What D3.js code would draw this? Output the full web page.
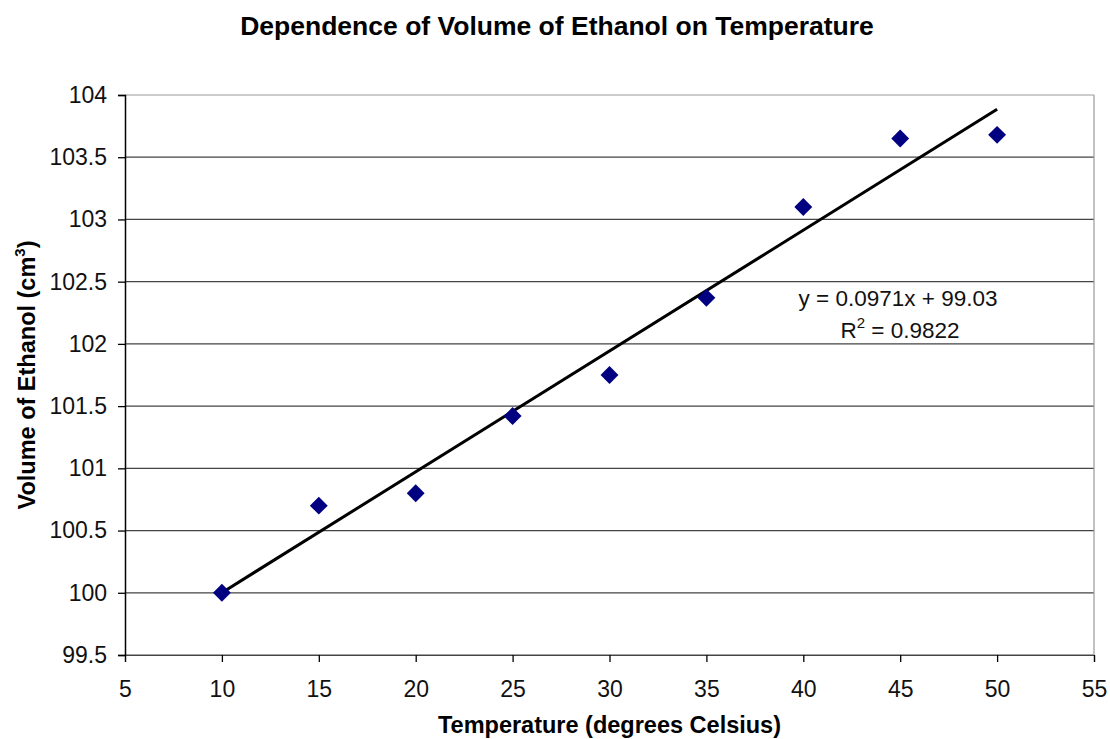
<!DOCTYPE html>
<html>
<head>
<meta charset="utf-8">
<script src="https://cdn.jsdelivr.net/npm/d3@7"></script>
<style>
  body { margin: 0; background: #fff; }
  text { font-family: "Liberation Sans", Arial, sans-serif; }
</style>
</head>
<body>
<svg id="chart" width="1110" height="739"></svg>
<script>
const temperatures = [10, 15, 20, 25, 30, 35, 40, 45, 50]
const volumes = [100.0, 100.7, 100.8, 101.42, 101.75, 102.37, 103.1, 103.65, 103.68]
const xTicks = [5, 10, 15, 20, 25, 30, 35, 40, 45, 50, 55]
const yTicks = [99.5, 100, 100.5, 101, 101.5, 102, 102.5, 103, 103.5, 104]
const trendSlope = 0.0971
const trendIntercept = 99.03
const rSquared = 0.9822

const svg = d3.select('#chart')
const plotLeft = 125
const plotRight = 1094
const plotTop = 95
const plotBottom = 655

const x = d3.scaleLinear().domain([5, 55]).range([plotLeft, plotRight])
const y = d3.scaleLinear().domain([99.5, 104]).range([plotBottom, plotTop])

// grid lines
svg.append('g')
    .selectAll('line')
    .data(yTicks)
    .join('line')
    .attr('x1', plotLeft)
    .attr('x2', plotRight)
    .attr('y1', d => y(d))
    .attr('y2', d => y(d))
    .attr('stroke', d => d === 104 ? '#999' : '#444')
    .attr('stroke-width', 1.2)

// right border
svg.append('line')
    .attr('x1', plotRight).attr('x2', plotRight)
    .attr('y1', plotTop).attr('y2', plotBottom)
    .attr('stroke', '#999')
    .attr('stroke-width', 1.2)

// axes
const yAxis = svg.append('g')
    .attr('transform', `translate(${plotLeft},0)`)
    .call(d3.axisLeft(y).tickValues(yTicks).tickSize(7).tickPadding(11).tickFormat(d3.format('')))
const xAxis = svg.append('g')
    .attr('transform', `translate(0,${plotBottom})`)
    .call(d3.axisBottom(x).tickValues(xTicks).tickSize(7).tickPadding(19).tickFormat(d3.format('')))

for (const ax of [yAxis, xAxis]) {
    ax.attr('font-size', 23).attr('font-family', '"Liberation Sans", Arial, sans-serif')
    ax.select('.domain').attr('stroke', '#000').attr('stroke-width', 1.5)
    ax.selectAll('.tick line').attr('stroke', '#000').attr('stroke-width', 1.3)
    ax.selectAll('.tick text').attr('fill', '#111')
}
xAxis.select('.domain').attr('stroke', '#444').attr('stroke-width', 1.2)

// trend line
svg.append('line')
    .attr('x1', x(temperatures[0]))
    .attr('y1', y(trendSlope * temperatures[0] + trendIntercept))
    .attr('x2', x(temperatures[temperatures.length - 1]))
    .attr('y2', y(trendSlope * temperatures[temperatures.length - 1] + trendIntercept))
    .attr('stroke', '#000')
    .attr('stroke-width', 3)

// markers
const diamond = d3.symbol().type(d3.symbolSquare).size(160)
svg.append('g')
    .selectAll('path')
    .data(temperatures)
    .join('path')
    .attr('d', diamond)
    .attr('transform', (d, i) => `translate(${x(d)},${y(volumes[i])}) rotate(45)`)
    .attr('fill', '#000080')

// equation
svg.append('text')
    .attr('x', 898)
    .attr('y', 306)
    .attr('text-anchor', 'middle')
    .attr('font-size', 22.5)
    .attr('fill', '#111')
    .text(`y = ${trendSlope}x + ${trendIntercept}`)

const r2 = svg.append('text')
    .attr('x', 900)
    .attr('y', 338)
    .attr('text-anchor', 'middle')
    .attr('font-size', 22.5)
    .attr('fill', '#111')
r2.append('tspan').text('R')
r2.append('tspan').attr('dy', -10).attr('font-size', 15).text('2')
r2.append('tspan').attr('dy', 10).text(` = ${rSquared}`)

// title
svg.append('text')
    .attr('x', 557)
    .attr('y', 35)
    .attr('text-anchor', 'middle')
    .attr('font-size', 26.5)
    .attr('font-weight', 'bold')
    .attr('fill', '#000')
    .text('Dependence of Volume of Ethanol on Temperature')

// x axis title
svg.append('text')
    .attr('x', (plotLeft + plotRight) / 2)
    .attr('y', 733)
    .attr('text-anchor', 'middle')
    .attr('font-size', 23.5)
    .attr('font-weight', 'bold')
    .text('Temperature (degrees Celsius)')

// y axis title
const yTitle = svg.append('text')
    .attr('transform', `translate(35,${(plotTop + plotBottom) / 2}) rotate(-90)`)
    .attr('text-anchor', 'middle')
    .attr('font-size', 23.5)
    .attr('font-weight', 'bold')
yTitle.append('tspan').text('Volume of Ethanol (cm')
yTitle.append('tspan').attr('dy', -10).attr('font-size', 15).text('3')
yTitle.append('tspan').attr('dy', 10).text(')')
</script>
</body>
</html>
